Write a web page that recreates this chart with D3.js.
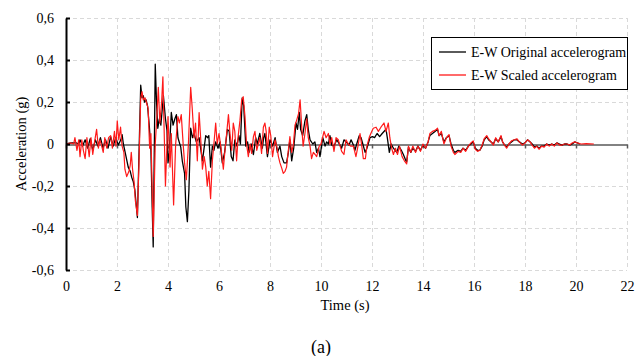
<!DOCTYPE html>
<html>
<head>
<meta charset="utf-8">
<script src="https://cdn.jsdelivr.net/npm/d3@7"></script>
<style>
  body { margin: 0; background: #fff; }
  svg text { font-family: "Liberation Serif", "Times New Roman", "DejaVu Serif", serif !important; fill: #000; }
</style>
</head>
<body>
<svg id="chart" width="641" height="356"></svg>
<script>
// time (s), acceleration (g)
const original = [
  [0,0],[0.2,0.005],[0.4,0.005],[0.5,0],[0.55,0.02],[0.65,-0.01],[0.75,0.02],[0.85,-0.02],[0.95,0.025],[1.05,-0.03],
  [1.15,0.02],[1.25,-0.01],[1.35,0.03],[1.45,-0.02],[1.55,0.02],[1.65,-0.02],[1.75,0.035],[1.85,-0.01],[1.95,0.03],[2.05,-0.005],
  [2.15,0.02],[2.2,0.045],[2.25,0],[2.32,-0.04],[2.44,-0.11],[2.52,-0.13],[2.58,-0.16],[2.64,-0.18],[2.7,-0.22],[2.8,-0.35],
  [2.93,0.28],[2.98,0.22],[3.03,0.23],[3.08,0.2],[3.14,0.21],[3.2,0.18],[3.27,0.08],[3.33,-0.03],[3.38,-0.3],[3.42,-0.49],
  [3.5,0.38],[3.55,0.2],[3.6,0.075],[3.66,0.12],[3.72,0.09],[3.82,0.23],[3.9,0.12],[3.96,0.065],[4.0,-0.09],[4.05,-0.04],
  [4.13,0.15],[4.2,0.09],[4.27,0.12],[4.33,0.14],[4.39,0.03],[4.5,-0.015],[4.56,-0.08],[4.65,-0.14],[4.7,-0.3],[4.76,-0.37],
  [4.82,-0.22],[4.89,0.075],[4.96,0.03],[5.02,0.05],[5.11,0.01],[5.22,0.03],[5.35,-0.08],[5.48,0.04],[5.55,0.03],[5.6,0.04],
  [5.67,-0.11],[5.74,-0.01],[5.8,-0.03],[5.87,0.01],[5.96,-0.02],[6.04,0.01],[6.13,-0.09],[6.22,-0.04],[6.33,0.07],[6.4,0.06],
  [6.48,-0.06],[6.55,-0.08],[6.62,0.02],[6.7,-0.01],[6.78,0.04],[6.84,0],[6.91,0.22],[6.97,0.18],[7.05,-0.01],[7.12,0.01],
  [7.18,-0.04],[7.26,0],[7.35,-0.05],[7.44,0.03],[7.5,0],[7.6,0.05],[7.7,-0.02],[7.75,0.03],[7.8,0.05],[7.9,-0.06],
  [8.0,0.02],[8.1,-0.01],[8.2,0.03],[8.29,-0.04],[8.39,-0.01],[8.46,-0.06],[8.55,-0.09],[8.65,-0.09],[8.72,-0.04],[8.78,0.02],
  [8.85,-0.08],[8.93,-0.02],[9.02,0.1],[9.08,0.07],[9.15,0.15],[9.2,0.07],[9.28,0.04],[9.37,0.11],[9.44,0.14],[9.5,0.07],
  [9.57,0.02],[9.68,0],[9.76,0.01],[9.83,-0.04],[9.9,-0.02],[9.96,-0.06],[10.07,0.03],[10.16,-0.01],[10.22,0.01],[10.29,0],
  [10.35,0.04],[10.42,-0.005],[10.51,-0.01],[10.62,0.02],[10.72,0],[10.81,-0.02],[10.9,0.02],[10.98,0.01],[11.1,-0.005],[11.18,0.02],
  [11.27,-0.005],[11.33,-0.03],[11.4,0],[11.5,0.04],[11.57,0.03],[11.64,0],[11.73,-0.04],[11.8,-0.02],[11.92,0.03],[12.02,0.035],
  [12.1,0.03],[12.2,0.05],[12.3,0.035],[12.4,0.05],[12.55,0.07],[12.6,0.03],[12.68,-0.04],[12.75,0],[12.84,-0.02],[12.97,-0.04],
  [13.05,-0.01],[13.15,-0.03],[13.23,-0.05],[13.33,-0.08],[13.36,-0.085],[13.43,-0.015],[13.52,-0.04],[13.6,-0.02],[13.71,-0.035],[13.8,-0.01],
  [13.9,-0.03],[14.0,-0.005],[14.1,-0.02],[14.2,0.01],[14.27,0.04],[14.37,0.05],[14.47,0.06],[14.57,0.07],[14.63,0.04],[14.72,0.05],
  [14.82,0.01],[14.92,0.03],[15.02,0.04],[15.1,0],[15.19,-0.03],[15.25,-0.04],[15.38,-0.03],[15.48,-0.035],[15.57,-0.02],[15.67,-0.03],
  [15.78,-0.01],[15.88,0],[15.97,0.01],[16.05,-0.02],[16.14,-0.03],[16.23,-0.03],[16.32,-0.01],[16.4,0.02],[16.5,0.035],[16.57,0.02],
  [16.67,0.01],[16.76,0],[16.85,0.025],[16.95,0.01],[17.06,0.035],[17.12,0.01],[17.2,-0.005],[17.28,-0.015],[17.37,0],[17.47,0.01],
  [17.58,0.02],[17.68,0.02],[17.78,0.01],[17.9,0],[18.0,0.005],[18.1,0.02],[18.2,0.01],[18.28,0],[18.37,-0.015],[18.46,-0.01],
  [18.55,-0.02],[18.65,-0.01],[18.75,-0.01],[18.85,0],[18.95,-0.005],[19.05,0],[19.15,-0.005],[19.25,0.005],[19.35,0],[19.45,-0.005],
  [19.55,0],[19.65,0],[19.75,-0.005],[19.85,0],[19.95,0.01],[20.05,0.005],[20.15,0]
];

const scaled = [
  [0,0],[0.2,0.005],[0.3,0],[0.35,0.03],[0.43,-0.03],[0.5,0.02],[0.55,-0.06],[0.62,0.02],[0.68,-0.03],[0.75,-0.07],
  [0.82,0.03],[0.91,-0.06],[0.98,0.03],[1.05,-0.05],[1.12,0.01],[1.2,0.07],[1.27,-0.02],[1.33,0.02],[1.4,-0.01],[1.46,-0.04],
  [1.52,0.03],[1.6,-0.02],[1.67,0.03],[1.75,0.04],[1.82,-0.02],[1.9,0.06],[1.96,-0.01],[2.01,0.11],[2.07,0.02],[2.14,0.08],
  [2.2,-0.01],[2.27,-0.04],[2.31,-0.12],[2.38,-0.155],[2.47,-0.13],[2.52,-0.1],[2.56,-0.04],[2.61,-0.12],[2.67,-0.18],[2.72,-0.27],
  [2.8,-0.34],[2.86,-0.1],[2.93,0.22],[2.98,0.25],[3.03,0.21],[3.1,0.22],[3.15,0.2],[3.22,0.17],[3.28,-0.02],[3.33,0.05],
  [3.42,-0.44],[3.5,0],[3.55,0.1],[3.62,0.27],[3.68,0.1],[3.75,0.2],[3.8,0.32],[3.9,-0.2],[4.0,0.13],[4.08,-0.11],
  [4.13,0.05],[4.22,-0.29],[4.3,0],[4.39,0.13],[4.45,0.1],[4.52,0.14],[4.6,-0.01],[4.65,-0.09],[4.72,-0.17],[4.8,0],
  [4.89,0.27],[4.95,0.17],[5.02,0.03],[5.08,0.1],[5.15,-0.08],[5.22,0.15],[5.28,0.03],[5.35,-0.12],[5.42,-0.06],[5.48,-0.11],
  [5.54,-0.2],[5.6,-0.13],[5.67,-0.26],[5.74,-0.08],[5.8,0],[5.87,0.1],[5.93,0],[6.0,0.05],[6.08,-0.02],[6.17,-0.12],
  [6.22,-0.05],[6.3,0.05],[6.37,0.14],[6.43,0.05],[6.5,-0.03],[6.56,0.1],[6.62,0.06],[6.69,-0.08],[6.75,0.035],[6.82,0.11],
  [6.89,0.21],[6.95,0.225],[7.02,0.13],[7.08,0],[7.15,-0.06],[7.22,0],[7.28,-0.045],[7.35,0.035],[7.41,0.06],[7.48,-0.03],
  [7.54,0],[7.6,0.03],[7.67,-0.045],[7.74,0.08],[7.8,0.1],[7.85,0.06],[7.9,-0.045],[7.97,0.08],[8.03,0.04],[8.1,-0.06],
  [8.2,0.02],[8.28,-0.02],[8.33,-0.06],[8.39,-0.09],[8.46,-0.115],[8.52,-0.14],[8.59,-0.13],[8.65,-0.11],[8.72,-0.03],[8.78,0.035],
  [8.85,-0.04],[8.92,0],[8.98,0.09],[9.05,0.115],[9.12,0.145],[9.18,0.21],[9.25,0.07],[9.3,-0.01],[9.37,0.05],[9.44,0.12],
  [9.5,0.03],[9.57,-0.01],[9.63,-0.07],[9.7,-0.04],[9.77,-0.05],[9.83,-0.06],[9.93,-0.01],[10.0,0],[10.12,0.06],[10.2,0.03],
  [10.29,0.05],[10.35,0],[10.42,0.03],[10.51,-0.035],[10.59,0.03],[10.68,0.02],[10.81,-0.035],[10.9,-0.05],[10.98,0.02],[11.07,0],
  [11.16,-0.01],[11.27,-0.01],[11.37,-0.06],[11.45,-0.01],[11.53,0.05],[11.6,-0.01],[11.66,-0.07],[11.74,-0.07],[11.8,-0.01],[11.9,0.035],
  [11.99,0.06],[12.05,0.075],[12.16,0.08],[12.25,0.06],[12.35,0.08],[12.47,0.1],[12.55,0.06],[12.64,0.1],[12.7,0.03],[12.77,-0.02],
  [12.84,-0.05],[12.92,-0.02],[13.0,-0.05],[13.08,-0.01],[13.18,-0.06],[13.27,-0.08],[13.36,-0.095],[13.43,-0.01],[13.52,-0.04],[13.6,-0.01],
  [13.71,-0.04],[13.8,-0.01],[13.9,-0.035],[14.0,0],[14.1,-0.02],[14.2,0.01],[14.27,0.05],[14.37,0.06],[14.47,0.065],[14.57,0.075],
  [14.63,0.04],[14.72,0.06],[14.82,0],[14.92,0.03],[15.02,0.045],[15.1,-0.01],[15.19,-0.04],[15.25,-0.05],[15.38,-0.035],[15.48,-0.04],
  [15.57,-0.02],[15.67,-0.035],[15.78,-0.01],[15.88,0.005],[15.97,0.015],[16.05,-0.025],[16.14,-0.035],[16.23,-0.03],[16.32,-0.005],[16.4,0.025],
  [16.5,0.04],[16.57,0.025],[16.67,0.01],[16.76,-0.005],[16.85,0.03],[16.95,0.01],[17.06,0.04],[17.12,0.01],[17.2,-0.005],[17.28,-0.02],
  [17.37,0],[17.47,0.015],[17.58,0.02],[17.68,0.025],[17.78,0.01],[17.9,-0.005],[18.0,0.005],[18.1,0.02],[18.2,0.01],[18.28,-0.005],
  [18.37,-0.02],[18.46,-0.01],[18.55,-0.025],[18.65,-0.01],[18.75,-0.015],[18.85,0],[18.95,-0.01],[19.05,0],[19.15,-0.01],[19.25,0.005],
  [19.35,-0.005],[19.45,-0.005],[19.55,0],[19.65,0],[19.75,-0.005],[19.85,0.005],[19.95,0.01],[20.05,0.005],[20.2,0],[20.4,0.002],
  [20.7,0]
];

const xTicks = [0, 2, 4, 6, 8, 10, 12, 14, 16, 18, 20, 22];
const yTicks = [-0.6, -0.4, -0.2, 0, 0.2, 0.4, 0.6];
const seriesNames = ["E-W Original accelerogram", "E-W Scaled accelerogram"];
const seriesColors = ["#000000", "#ff1a1a"];

const svg = d3.select("#chart");

const x = d3.scaleLinear().domain([0, 22]).range([66, 627]);
const y = d3.scaleLinear().domain([-0.6, 0.6]).range([270, 18]);

const fmt = (d) => (d === 0 ? "0" : d.toFixed(1).replace(".", ","));

// grid
const grid = svg.append("g")
  .attr("stroke", "#d9d9d9")
  .attr("stroke-width", 1)
  .attr("stroke-dasharray", "4,3");
grid.selectAll("line.h")
  .data(yTicks.filter((d) => d !== 0))
  .join("line")
  .attr("class", "h")
  .attr("x1", x(0))
  .attr("x2", x(22))
  .attr("y1", (d) => Math.round(y(d)) + 0.5)
  .attr("y2", (d) => Math.round(y(d)) + 0.5);
grid.selectAll("line.v")
  .data(xTicks.filter((d) => d !== 0))
  .join("line")
  .attr("class", "v")
  .attr("x1", (d) => Math.round(x(d)) + 0.5)
  .attr("x2", (d) => Math.round(x(d)) + 0.5)
  .attr("y1", y(0.6))
  .attr("y2", y(-0.6));

// horizontal axis through zero, ticks pointing down
const xAxis = svg.append("g")
  .attr("transform", `translate(0,${Math.round(y(0)) + 0.5})`)
  .call(d3.axisBottom(x).tickValues(xTicks).tickSize(4).tickSizeOuter(0).tickFormat(""));
xAxis.selectAll("path, line").attr("stroke", "#595959").attr("stroke-width", 1.5);

// tick labels along the bottom
const xLabels = svg.append("g")
  .attr("transform", `translate(0,${y(-0.6)})`)
  .call(d3.axisBottom(x).tickValues(xTicks).tickSize(0).tickPadding(11).tickFormat((d) => d));
xLabels.select(".domain").remove();
xLabels.selectAll("text").attr("font-size", 14);

// series
const line = d3.line()
  .x((d) => x(d[0]))
  .y((d) => y(d[1]));

svg.append("path")
  .datum(original)
  .attr("fill", "none")
  .attr("stroke", seriesColors[0])
  .attr("stroke-width", 1.3)
  .attr("stroke-linejoin", "round")
  .attr("d", line);

svg.append("path")
  .datum(scaled)
  .attr("fill", "none")
  .attr("stroke", seriesColors[1])
  .attr("stroke-width", 1.2)
  .attr("stroke-linejoin", "round")
  .attr("d", line);

// vertical axis, ticks pointing into the plot
const yAxis = svg.append("g")
  .attr("transform", `translate(${x(0)},0)`)
  .call(d3.axisLeft(y).tickValues(yTicks).tickSizeInner(-4).tickSizeOuter(0).tickPadding(12).tickFormat(fmt));
yAxis.selectAll("path, line").attr("stroke", "#000").attr("stroke-width", 2);
yAxis.selectAll("text").attr("font-size", 14);

// axis titles
svg.append("text")
  .attr("transform", `translate(26,${y(0)}) rotate(-90)`)
  .attr("text-anchor", "middle")
  .attr("font-size", 14.5)
  .text("Acceleration (g)");

svg.append("text")
  .attr("x", 345)
  .attr("y", 310)
  .attr("text-anchor", "middle")
  .attr("font-size", 14.5)
  .text("Time (s)");

svg.append("text")
  .attr("x", 321)
  .attr("y", 353)
  .attr("text-anchor", "middle")
  .attr("font-size", 18)
  .text("(a)");

// legend
const legend = svg.append("g");
legend.append("rect")
  .attr("x", 431.5)
  .attr("y", 37.5)
  .attr("width", 196)
  .attr("height", 52)
  .attr("fill", "#fff")
  .attr("stroke", "#000")
  .attr("stroke-width", 1);
const item = legend.selectAll("g.item")
  .data(seriesNames)
  .join("g")
  .attr("class", "item")
  .attr("transform", (d, i) => `translate(0,${52 + i * 23})`);
item.append("line")
  .attr("x1", 439)
  .attr("x2", 466)
  .attr("stroke", (d, i) => seriesColors[i])
  .attr("stroke-width", 1.3);
item.append("text")
  .attr("x", 471)
  .attr("dy", "0.35em")
  .attr("font-size", 14)
  .text((d) => d);
</script>
</body>
</html>
